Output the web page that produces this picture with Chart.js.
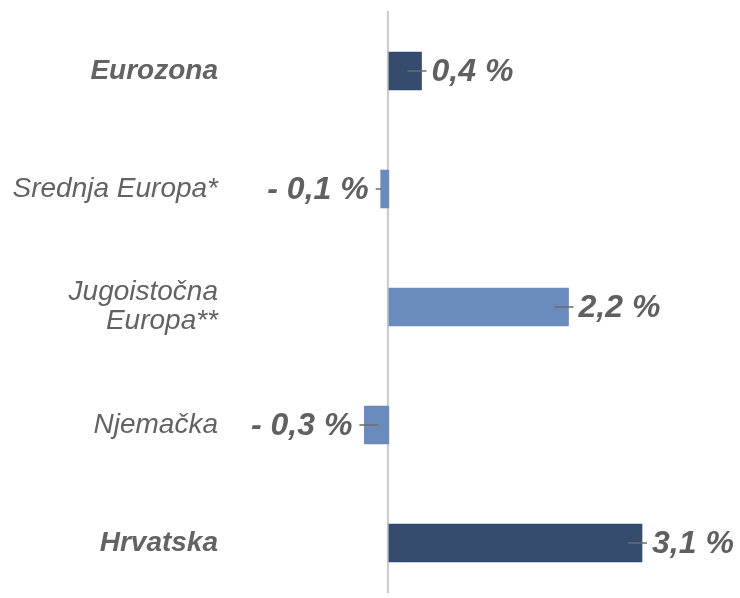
<!DOCTYPE html>
<html>
<head>
<meta charset="utf-8">
<script src="https://cdn.jsdelivr.net/npm/chart.js@4/dist/chart.umd.min.js"></script>
<style>
  html,body{margin:0;padding:0;background:#fff;overflow:hidden;}
  #wrap{width:740px;height:598px;overflow:hidden;}
</style>
</head>
<body>
<div id="wrap"><canvas id="grafico" width="740" height="602"></canvas></div>
<script>
// dados
var categorias = ["Eurozona", "Srednja Europa*", ["Jugoistočna", "Europa**"], "Njemačka", "Hrvatska"];
var valores = [0.4, -0.1, 2.2, -0.3, 3.1];
var negrito = [true, false, false, false, true];
var cores = ["#364c6e", "#6a8cbd", "#6a8cbd", "#6a8cbd", "#364c6e"];

var fonte = "'Liberation Sans', Arial, sans-serif";

function formata(v){
    var s = Math.abs(v).toFixed(1).replace(".", ",") + " %";
    return v < 0 ? "- " + s : s;
}

// linha do zero
var linhaZero = {
    id: "linhaZero",
    beforeDatasetsDraw(chart){
        var ctx = chart.ctx;
        var x = chart.scales.x.getPixelForValue(0) - 1;
        ctx.save();
        ctx.strokeStyle = "#c9c9c9";
        ctx.lineWidth = 2;
        ctx.beginPath();
        ctx.moveTo(x, chart.chartArea.top - 1);
        ctx.lineTo(x, chart.chartArea.bottom - 9);
        ctx.stroke();
        ctx.restore();
    }
};

// rótulos com linha guia
var rotulos = {
    id: "rotulos",
    afterDatasetsDraw(chart){
        var ctx = chart.ctx;
        var meta = chart.getDatasetMeta(0);
        var x0 = chart.scales.x.getPixelForValue(0);
        ctx.save();
        meta.data.forEach(function(bar, i){
            var v = valores[i];
            var dir = v >= 0 ? 1 : -1;
            var len = Math.abs(bar.x - x0);
            var dentro = len < 20 ? 1 : 14;
            ctx.strokeStyle = "#6b6b6b";
            ctx.lineWidth = 1.5;
            ctx.beginPath();
            ctx.moveTo(bar.x - dir * dentro, bar.y);
            ctx.lineTo(bar.x + dir * 5, bar.y);
            ctx.stroke();
            ctx.fillStyle = "#606060";
            ctx.font = "italic bold 32px " + fonte;
            ctx.textBaseline = "middle";
            if (dir > 0){
                ctx.textAlign = "left";
                ctx.fillText(formata(v), bar.x + 10, bar.y + 1);
            } else {
                ctx.textAlign = "right";
                ctx.fillText(formata(v), bar.x - 12, bar.y + 1);
            }
        });
        ctx.restore();
    }
};

var dados = {
    labels: categorias,
    datasets: [{
        label: "BDP",
        data: valores,
        backgroundColor: cores,
        borderWidth: 0,
        barThickness: 38
    }]
};

var config = {
    type: "bar",
    data: dados,
    options: {
        indexAxis: "y",
        responsive: false,
        animation: false,
        layout: { padding: { top: 12, bottom: 0, left: 0, right: 0 } },
        plugins: {
            legend: { display: false },
            tooltip: { enabled: false }
        },
        scales: {
            x: {
                display: false,
                min: -1.97,
                max: 4.3
            },
            y: {
                grid: { display: false, drawTicks: false },
                border: { display: false },
                afterFit: function(scale){
                    scale.width = 228;
                    scale.paddingTop = 0;
                    scale.paddingBottom = 0;
                },
                ticks: {
                    padding: 10,
                    color: "#636363",
                    font: function(c){
                        return {
                            family: fonte,
                            size: 28,
                            style: "italic",
                            weight: negrito[c.index] ? "bold" : "normal",
                            lineHeight: 1.05
                        };
                    }
                }
            }
        }
    },
    plugins: [linhaZero, rotulos]
};

var g1 = new Chart(document.getElementById("grafico").getContext("2d"), config);
</script>
</body>
</html>
